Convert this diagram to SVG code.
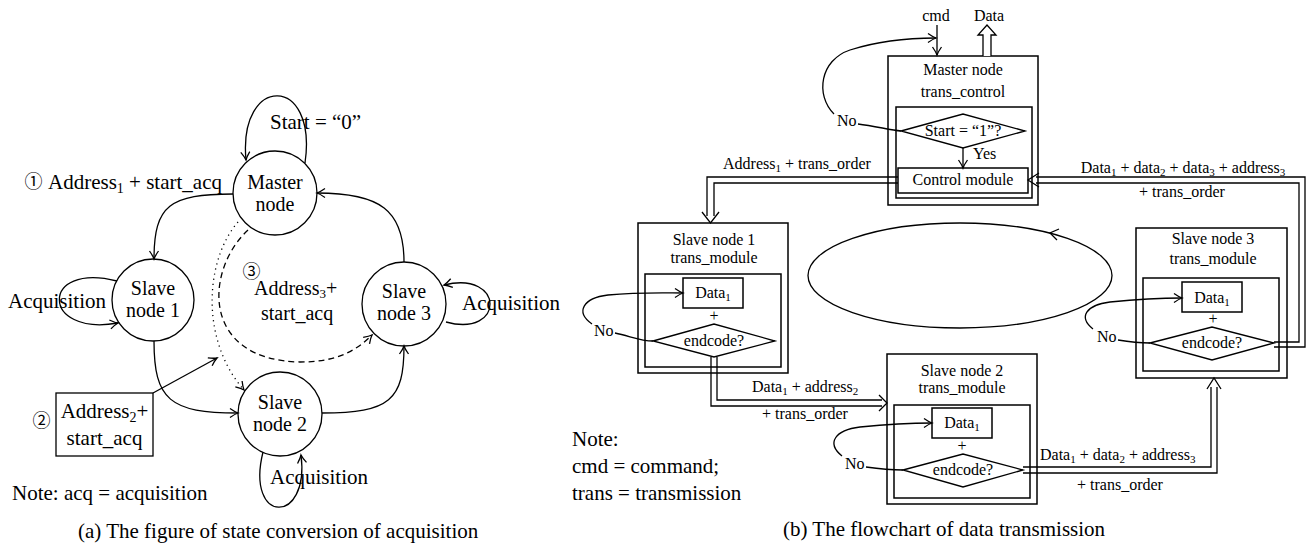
<svg xmlns="http://www.w3.org/2000/svg" width="1309" height="551" viewBox="0 0 1309 551">
<style>
.l{fill:none;stroke:#000;stroke-width:1.3}
.bx{fill:none;stroke:#000;stroke-width:1.5}
.wf{fill:#fff;stroke:#000;stroke-width:1.3}
.t{font-family:"Liberation Serif","Times New Roman",serif;fill:#000}
.a{font-size:21px}
.n{font-size:20px}
.b{font-size:16px}
.cap{font-size:21px}
.c{text-anchor:middle}
.ci{font-family:"Noto Sans CJK JP","DejaVu Sans",sans-serif;font-size:18px;text-anchor:middle;fill:#000}
</style>
<defs>
<marker id="ah" viewBox="-10 -6 12 12" refX="0" refY="0" markerWidth="12" markerHeight="12" markerUnits="userSpaceOnUse" orient="auto">
<path d="M-8,-4.5 Q-3,-1 0,0 Q-3,1 -8,4.5" fill="none" stroke="#000" stroke-width="1.3"/>
</marker>
</defs>
<rect width="1309" height="551" fill="#fff"/>

<!-- (a) state diagram -->
<g id="a-connectors">
<path class="l" d="M305,163 C318,74 238,74 246,160" marker-end="url(#ah)"/>
<path class="l" d="M233,194 C170,194 154,205 154,259" marker-end="url(#ah)"/>
<path class="l" d="M117,281 C40,261 40,337 118,323" marker-end="url(#ah)"/>
<path class="l" d="M154,341 C154,400 170,413 238,413" marker-end="url(#ah)"/>
<path class="l" d="M263,452 C245,525 310,525 301,455" marker-end="url(#ah)"/>
<path class="l" d="M322,413 C390,413 404,400 404,346" marker-end="url(#ah)"/>
<path class="l" d="M446,322 C505,338 505,270 444,285" marker-end="url(#ah)"/>
<path class="l" d="M404,262 C404,210 380,193 317,193" marker-end="url(#ah)"/>
<path class="l" d="M238,222 C205,260 200,340 244,390" stroke-dasharray="1.2,4" marker-end="url(#ah)"/>
<path class="l" d="M248,230 C205,270 200,360 300,362 C335,362 355,352 372,335" stroke-dasharray="6,4" marker-end="url(#ah)"/>
<path class="l" d="M153,393 L217,358" marker-end="url(#ah)"/>
</g>
<g id="master-a">
<circle class="l" cx="275" cy="193" r="42" fill="#fff"/>
<text class="t n c" x="275" y="189">Master</text>
<text class="t n c" x="275" y="211">node</text>
</g>
<g id="slave1-a">
<circle class="l" cx="153" cy="300" r="41" fill="#fff"/>
<text class="t n c" x="153" y="295">Slave</text>
<text class="t n c" x="153" y="317">node 1</text>
</g>
<g id="slave2-a">
<circle class="l" cx="280" cy="414" r="42" fill="#fff"/>
<text class="t n c" x="280" y="409">Slave</text>
<text class="t n c" x="280" y="431">node 2</text>
</g>
<g id="slave3-a">
<circle class="l" cx="404" cy="304" r="42" fill="#fff"/>
<text class="t n c" x="404" y="298">Slave</text>
<text class="t n c" x="404" y="320">node 3</text>
</g>
<g id="addr2-box">
<rect class="l" x="56" y="393" width="97" height="63" fill="#fff"/>
<text class="t a c" x="104.5" y="418">Address<tspan font-size="14" dy="4">2</tspan><tspan dy="-4">+</tspan></text>
<text class="t a c" x="104.5" y="445">start_acq</text>
<text class="ci" x="41.5" y="427">②</text>
</g>
<g id="a-labels">
<text class="t a" x="270" y="129">Start = “0”</text>
<text class="ci" x="33.5" y="188">①</text>
<text class="t a" x="48" y="189">Address<tspan font-size="14" dy="4">1</tspan><tspan dy="-4"> + start_acq</tspan></text>
<text class="t a" x="8" y="308">Acquisition</text>
<text class="t a" x="270" y="484">Acquisition</text>
<text class="t a" x="462" y="310">Acquisition</text>
<text class="ci" x="251.5" y="278">③</text>
<text class="t n" x="254" y="295">Address<tspan font-size="13" dy="3">3</tspan><tspan dy="-3">+</tspan></text>
<text class="t n" x="261" y="320">start_acq</text>
<text class="t a" x="12" y="500">Note: acq = acquisition</text>
<text class="t cap" x="78" y="538">(a)  The figure of state conversion of acquisition</text>
</g>

<!-- (b) flowchart -->
<g id="master-b">
<rect class="bx" x="888" y="56" width="150" height="149"/>
<rect class="bx" x="896" y="107" width="136" height="91"/>
<text class="t b c" x="963" y="75">Master node</text>
<text class="t b c" x="963" y="97">trans_control</text>
<polygon class="l" points="901,131 963,114 1025,131 963,148"/>
<text class="t b c" x="963" y="136">Start = “1”?</text>
<rect class="bx" x="898" y="168" width="130" height="25"/>
<text class="t b c" x="963" y="185">Control module</text>
<text class="t b" x="973" y="159">Yes</text>
<text class="t b" x="837" y="126">No</text>
</g>
<g id="slave1-b">
<rect class="bx" x="638" y="223" width="150" height="150"/>
<rect class="bx" x="645" y="274" width="136" height="93"/>
<text class="t b c" x="714" y="245">Slave node 1</text>
<text class="t b c" x="714" y="263">trans_module</text>
<rect class="bx" x="683" y="278" width="60" height="30"/>
<text class="t b c" x="713" y="298">Data<tspan font-size="11" dy="3">1</tspan></text>
<text class="t b c" x="714" y="321">+</text>
<polygon class="l" points="653,341 714,324 775,341 714,357"/>
<text class="t b c" x="714" y="346">endcode?</text>
<text class="t b" x="594" y="336">No</text>
</g>
<g id="slave2-b">
<rect class="bx" x="887" y="354" width="150" height="150"/>
<rect class="bx" x="894" y="405" width="136" height="93"/>
<text class="t b c" x="962" y="376">Slave node 2</text>
<text class="t b c" x="962" y="393">trans_module</text>
<rect class="bx" x="932" y="408" width="60" height="30"/>
<text class="t b c" x="962" y="428">Data<tspan font-size="11" dy="3">1</tspan></text>
<text class="t b c" x="962" y="451">+</text>
<polygon class="l" points="903,470 963,454 1023,470 963,487"/>
<text class="t b c" x="963" y="475">endcode?</text>
<text class="t b" x="845" y="469">No</text>
</g>
<g id="slave3-b">
<rect class="bx" x="1136" y="228" width="151" height="150"/>
<rect class="bx" x="1143" y="278" width="136" height="93"/>
<text class="t b c" x="1213" y="244">Slave node 3</text>
<text class="t b c" x="1213" y="264">trans_module</text>
<rect class="bx" x="1182" y="282" width="60" height="30"/>
<text class="t b c" x="1212" y="303">Data<tspan font-size="11" dy="3">1</tspan></text>
<text class="t b c" x="1213" y="324">+</text>
<polygon class="l" points="1150,343 1212,327 1274,343 1212,360"/>
<text class="t b c" x="1212" y="348">endcode?</text>
<text class="t b" x="1097" y="342">No</text>
</g>
<g id="b-connectors">
<path class="l" d="M937,25 L937,55" marker-end="url(#ah)"/>
<path class="wf" d="M983,56 L983,35 L978,35 L987,25 L996,35 L991,35 L991,56"/>
<path class="l" d="M858,124 C875,126 890,130 901,131"/>
<path class="l" d="M834,114 C815,95 820,60 850,50 C875,42 905,38 936,38" marker-end="url(#ah)"/>
<path class="l" d="M615,333 C630,336 640,341 653,341"/>
<path class="l" d="M592,324 C575,312 583,298 608,295 C640,292 665,293 683,293" marker-end="url(#ah)"/>
<path class="l" d="M866,467 C880,469 890,470 903,470"/>
<path class="l" d="M842,456 C826,443 835,430 860,427 C890,424 915,423 932,423" marker-end="url(#ah)"/>
<path class="l" d="M1118,340 C1130,342 1140,343 1150,343"/>
<path class="l" d="M1093,329 C1078,317 1086,305 1110,302 C1140,299 1165,298 1182,298" marker-end="url(#ah)"/>
<path class="l" d="M963,148 L963,168" marker-end="url(#ah)"/>
<path class="l" d="M898,177 L707,177 L707,216"/>
<path class="l" d="M898,183 L714,183 L714,216"/>
<path class="l" d="M702,212 L710.5,223 L719,212"/>
<path class="l" d="M711,357 L711,406 L882,406"/>
<path class="l" d="M717,357 L717,400 L882,400"/>
<path class="l" d="M879,395 L887,403 L879,411"/>
<path class="l" d="M1023,467 L1211,467 L1211,387"/>
<path class="l" d="M1023,473 L1217,473 L1217,387"/>
<path class="l" d="M1207,389 L1214,378 L1221,389"/>
<path class="l" d="M1274,342 L1299,342 L1299,183 L1036,183"/>
<path class="l" d="M1274,347 L1305,347 L1305,177 L1036,177"/>
<path class="l" d="M1039,173 L1028,180 L1039,187"/>
<ellipse class="l" cx="960" cy="275.5" rx="152" ry="52.5"/>
<path class="l" d="M1059,229 L1050,233 L1057,240"/>
</g>
<g id="b-labels">
<text class="t b c" x="936" y="21">cmd</text>
<text class="t b c" x="989" y="21">Data</text>
<text class="t b" x="723" y="169">Address<tspan font-size="11" dy="3">1</tspan><tspan dy="-3"> + trans_order</tspan></text>
<text class="t b c" x="1183" y="173">Data<tspan font-size="11" dy="3">1</tspan><tspan dy="-3"> + data</tspan><tspan font-size="11" dy="3">2</tspan><tspan dy="-3"> + data</tspan><tspan font-size="11" dy="3">3</tspan><tspan dy="-3"> + address</tspan><tspan font-size="11" dy="3">3</tspan></text>
<text class="t b c" x="1182" y="197">+ trans_order</text>
<text class="t b" x="752" y="392">Data<tspan font-size="11" dy="3">1</tspan><tspan dy="-3"> + address</tspan><tspan font-size="11" dy="3">2</tspan></text>
<text class="t b" x="762" y="419">+ trans_order</text>
<text class="t b" x="1040" y="460">Data<tspan font-size="11" dy="3">1</tspan><tspan dy="-3"> + data</tspan><tspan font-size="11" dy="3">2</tspan><tspan dy="-3"> + address</tspan><tspan font-size="11" dy="3">3</tspan></text>
<text class="t b" x="1077" y="490">+ trans_order</text>
<text class="t cap" x="572" y="446">Note:</text>
<text class="t cap" x="572" y="473">cmd = command;</text>
<text class="t cap" x="572" y="500">trans = transmission</text>
<text class="t cap" x="783" y="536">(b)  The flowchart of data transmission</text>
</g>
</svg>
